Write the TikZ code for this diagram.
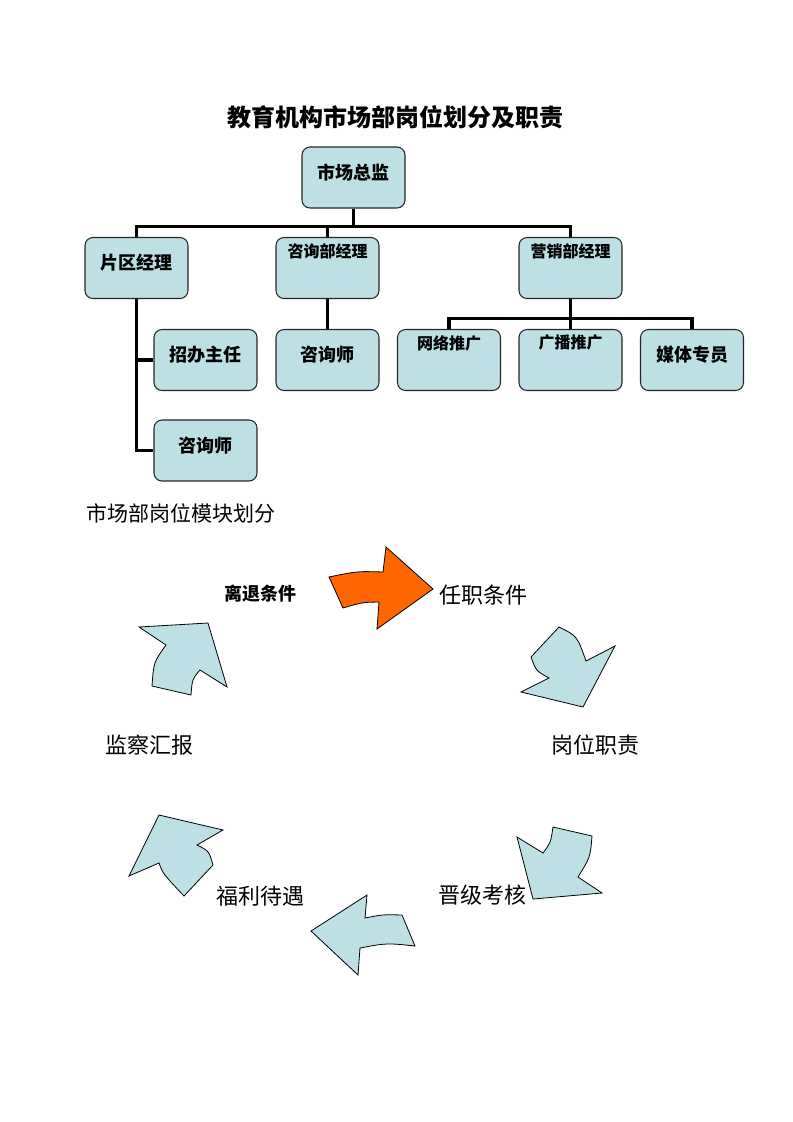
\documentclass[tikz,border=0pt]{standalone}
\usepackage{fontspec}
\newfontfamily\cjk{Noto Sans CJK SC}
\definecolor{boxfill}{RGB}{188,224,227}
\definecolor{orangefill}{RGB}{255,102,0}
\begin{document}
\begin{tikzpicture}[x=0.75pt,y=-0.75pt,
  box/.style={draw=black!85, line width=0.8pt, fill=boxfill, rounded corners=6pt,
    minimum width=77.25pt, minimum height=45.75pt, inner sep=0pt,
    text height=11pt, text depth=8.3pt,
    font=\cjk\bfseries\fontsize{13.5}{13.5}\selectfont},
  toplbl/.style={anchor=center, yshift=-10.5pt, inner sep=0pt,
    font=\cjk\bfseries\fontsize{12}{12}\selectfont},
  conn/.style={line width=2.3pt, black},
  arr/.style={draw=black, line width=0.6pt, fill=boxfill, line join=miter},
  cyc/.style={inner sep=0pt, font=\cjk\fontsize{16.5}{16.5}\selectfont}
]
\path[use as bounding box] (0,0) rectangle (793,1122);

% title
\node[font=\cjk\bfseries\fontsize{18}{18}\selectfont] (title) at (395.5,117) {教育机构市场部岗位划分及职责};

% org chart
\node[box] (zj) at (353.5,177.5) {市场总监};
\node[box] (pq) at (136.5,268) {片区经理};
\node[box, label={[toplbl]north:咨询部经理}] (zx) at (327.5,268) {};
\node[box, label={[toplbl]north:营销部经理}] (yx) at (570.5,268) {};
\node[box] (zb) at (205.5,360) {招办主任};
\node[box] (zs1) at (327.5,360) {咨询师};
\node[box, label={[toplbl]north:网络推广}] (wl) at (449,360) {};
\node[box, label={[toplbl]north:广播推广}] (gb) at (570.5,360) {};
\node[box] (mt) at (692,360) {媒体专员};
\node[box] (zs2) at (205.5,450.5) {咨询师};

\draw[conn] (zj.south) -- ++(0,18) -| (pq.north);
\draw[conn] (zj.south) -- ++(0,18) -| (zx.north);
\draw[conn] (zj.south) -- ++(0,18) -| (yx.north);
\draw[conn] (zx.south) -- (zs1.north);
\draw[conn] (yx.south) -- ++(0,19) -| (wl.north);
\draw[conn] (yx.south) -- (gb.north);
\draw[conn] (yx.south) -- ++(0,19) -| (mt.north);
\draw[conn] (pq.south) |- (zb.west);
\draw[conn] (pq.south) |- (zs2.west);

% section heading
\node[inner sep=0pt, font=\cjk\fontsize{15.75}{15.75}\selectfont] (sec) at (180.5,513) {市场部岗位模块划分};

% cycle labels
\node[inner sep=0pt, font=\cjk\bfseries\fontsize{13.5}{13.5}\selectfont] (lt) at (260,594) {离退条件};
\node[cyc] (rz) at (483,595) {任职条件};
\node[cyc] (gw) at (595.5,745) {岗位职责};
\node[cyc] (jc) at (149,745) {监察汇报};
\node[cyc] (jj) at (482.5,895) {晋级考核};
\node[cyc] (fl) at (260.5,896) {福利待遇};

% arrows
\draw[arr, fill=orangefill] (329,577) .. controls (357.3,571.2) .. (383,572) -- (386,547) -- (433,589) -- (377,629) -- (379,602) .. controls (362.3,602.3) .. (343,608) -- cycle;
\draw[arr] (559,627) .. controls (577.2,636) .. (586,661) -- (615,646) -- (583,707) -- (521,692) -- (549,678) .. controls (536,670.8) .. (531,657) -- cycle;
\draw[arr] (517,837) -- (543,853) .. controls (550.7,842.7) .. (553,827) -- (592,836) .. controls (590.3,857.2) .. (578,877) -- (602,893) -- (533,899) -- cycle;
\draw[arr] (311,931) -- (367,895) -- (365,918) .. controls (382.8,914.5) .. (402,915) -- (415,946) .. controls (386.8,943) .. (360,948) -- (358,975) -- cycle;
\draw[arr] (159,815) -- (223,830) -- (197,845) .. controls (209,851) .. (213,865) -- (184,896) .. controls (162.8,873.5) .. (159,863) -- (129,876) -- cycle;
\draw[arr] (139,627) -- (208,623) -- (227,687) -- (200,670) .. controls (192.2,679.2) .. (191,695) -- (152,686) .. controls (153.7,662.2) .. (166,645) -- cycle;
\end{tikzpicture}
\end{document}
